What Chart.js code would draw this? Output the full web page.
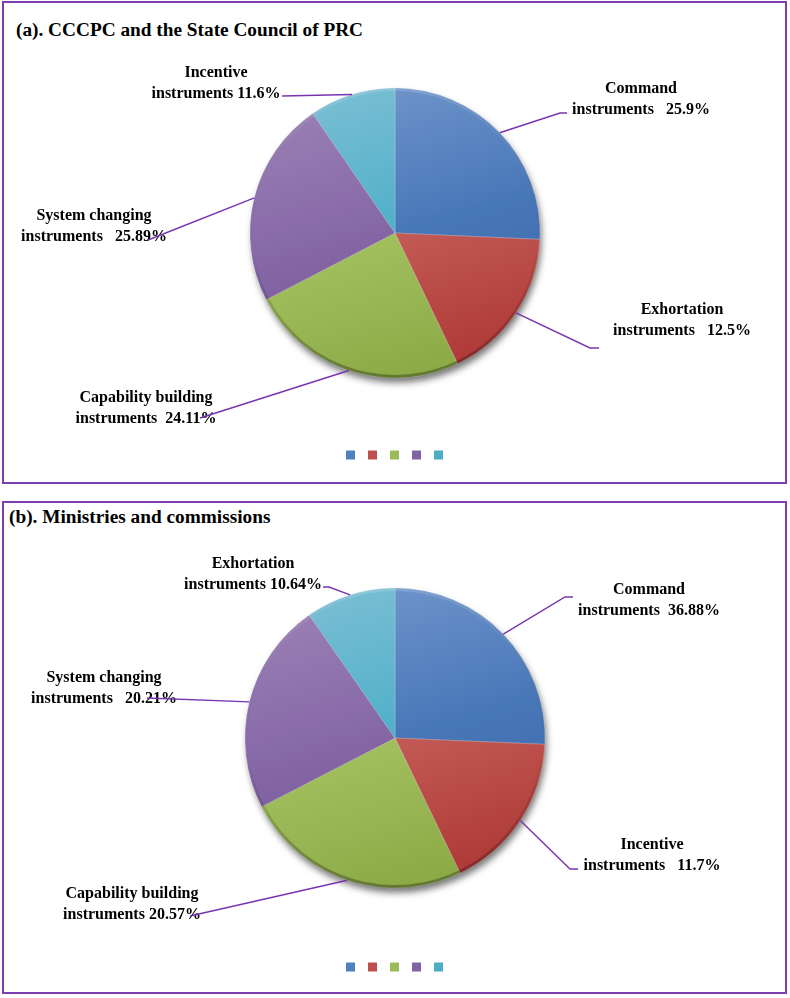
<!DOCTYPE html>
<html>
<head>
<meta charset="utf-8">
<script src="https://cdn.jsdelivr.net/npm/chart.js@4.4.1/dist/chart.umd.min.js"></script>
<style>
  body { margin: 0; background: #fff; }
  #page { position: relative; width: 790px; height: 998px; overflow: hidden; }
  .frame { position: absolute; border: 2px solid #7b3fb2; box-sizing: border-box; }
  .title { position: absolute; font: bold 19.3px "Liberation Serif", "Times New Roman", serif; line-height: 19px; color: #000; white-space: nowrap; }
  .plot { position: absolute; left: 0; width: 790px; }
</style>
</head>
<body>
<div id="page">
  <div class="frame" style="left:2px;top:1px;width:785px;height:483px"></div>
  <div class="frame" style="left:2px;top:501px;width:785px;height:493px"></div>
  <div class="title" style="left:16px;top:20px">(a). CCCPC and the State Council of PRC</div>
  <div class="title" style="left:9px;top:507px">(b). Ministries and commissions</div>
  <div class="plot" style="top:0;height:500px"><canvas id="chartA"></canvas></div>
  <div class="plot" style="top:500px;height:498px"><canvas id="chartB"></canvas></div>
</div>
<script>
// panel (a)
const categoriesA = ["Command", "Exhortation", "Capability building", "System changing", "Incentive"];
const sharesA = [25.7, 17.2, 24.5, 23.0, 9.6];        // slice sizes as drawn
const percentsA = ["25.9%", "12.5%", "24.11%", "25.89%", "11.6%"]; // printed labels

// panel (b)
const categoriesB = ["Command", "Incentive", "Capability building", "System changing", "Exhortation"];
const sharesB = [25.7, 17.2, 24.6, 22.9, 9.7];
const percentsB = ["36.88%", "11.7%", "20.57%", "20.21%", "10.64%"];

const baseColors = ["#4F81BD", "#C0504D", "#9BBB59", "#8064A2", "#4BACC6"];
const lightColors = ["#7095CB", "#D0736D", "#B2CB78", "#9A80B5", "#78BED3"];
const midColors = ["#4877B8", "#C35A55", "#A2BF5E", "#8466A6", "#4FAFC9"];
const darkColors = ["#3A66A8", "#AD3835", "#8AA944", "#6F4F8E", "#3A9DB8"];

// label placement, page coordinates: centre x, first baseline, spaces before %, leader path
const labelLayoutA = [
  { x: 641, y: 93, gap: 3, path: [[560, 113], [567, 113]] },
  { x: 682, y: 314, gap: 3, path: [[590, 348], [599, 348]] },
  { x: 146, y: 402, gap: 2, path: [[200, 418]] },
  { x: 94, y: 220, gap: 3, path: [[148, 240]] },
  { x: 216, y: 77, gap: 1, path: [[282, 96]] }
];
const labelLayoutB = [
  { x: 649, y: 594, gap: 2, path: [[565, 597], [573, 597]] },
  { x: 652, y: 849, gap: 3, path: [[570, 869], [578, 869]] },
  { x: 132, y: 898, gap: 1, path: [[190, 916]] },
  { x: 104, y: 682, gap: 3, path: [[147, 698]] },
  { x: 253, y: 568, gap: 1, path: [[329, 587], [323, 587]] }
];

function shadedFill(radius) {
  return function (context) {
    const i = context.dataIndex;
    const area = context.chart.chartArea;
    if (!area) return baseColors[i];
    const cx = (area.left + area.right) / 2;
    const cy = (area.top + area.bottom) / 2;
    const g = context.chart.ctx.createLinearGradient(cx - radius * 0.3, cy - radius, cx + radius * 0.3, cy + radius);
    g.addColorStop(0, lightColors[i]);
    g.addColorStop(0.5, midColors[i]);
    g.addColorStop(1, darkColors[i]);
    return g;
  };
}

const pieShadow = {
  id: "pieShadow",
  beforeDatasetsDraw(chart) {
    const arc = chart.getDatasetMeta(0).data[0];
    if (!arc) return;
    const ctx = chart.ctx;
    ctx.save();
    ctx.shadowColor = "rgba(0,0,0,0.55)";
    ctx.shadowBlur = 7;
    ctx.shadowOffsetX = 2;
    ctx.shadowOffsetY = 5;
    ctx.fillStyle = "#666";
    ctx.beginPath();
    ctx.arc(arc.x, arc.y, arc.outerRadius - 0.5, 0, Math.PI * 2);
    ctx.fill();
    ctx.restore();
  },
  afterDatasetsDraw(chart) {
    const arc = chart.getDatasetMeta(0).data[0];
    if (!arc) return;
    const ctx = chart.ctx;
    const r = arc.outerRadius;
    const g = ctx.createLinearGradient(0, arc.y - r, 0, arc.y + r);
    g.addColorStop(0, "rgba(255,255,255,0.15)");
    g.addColorStop(0.55, "rgba(0,0,0,0)");
    g.addColorStop(1, "rgba(0,0,0,0.3)");
    ctx.save();
    ctx.strokeStyle = g;
    ctx.lineWidth = 3;
    ctx.beginPath();
    ctx.arc(arc.x, arc.y, r - 1.5, 0, Math.PI * 2);
    ctx.stroke();
    ctx.restore();
  }
};

function leaderLabels(names, percents, layout, offsetY) {
  return {
    id: "leaderLabels",
    afterDraw(chart) {
      const ctx = chart.ctx;
      const arcs = chart.getDatasetMeta(0).data;
      ctx.save();
      ctx.font = 'bold 16px "Liberation Serif", "Times New Roman", serif';
      ctx.textAlign = "center";
      ctx.textBaseline = "alphabetic";
      ctx.fillStyle = "#000";
      layout.forEach((item, i) => {
        const second = "instruments" + " ".repeat(item.gap) + percents[i];
        ctx.fillText(names[i], item.x, item.y - offsetY);
        ctx.fillText(second, item.x, item.y - offsetY + 21);
      });
      ctx.strokeStyle = "#7834B0";
      ctx.lineWidth = 1.4;
      arcs.forEach((arc, i) => {
        const mid = (arc.startAngle + arc.endAngle) / 2;
        ctx.beginPath();
        ctx.moveTo(arc.x + Math.cos(mid) * arc.outerRadius, arc.y + Math.sin(mid) * arc.outerRadius);
        layout[i].path.forEach(p => ctx.lineTo(p[0], p[1] - offsetY));
        ctx.stroke();
      });
      ctx.restore();
    }
  };
}

function pieConfig(names, shares, percents, layout, offsetY, radius, padTop, padBottom) {
  return {
    type: "pie",
    data: {
      labels: names,
      datasets: [{
        data: shares,
        backgroundColor: shadedFill(radius),
        borderColor: "rgba(255,255,255,0.35)",
        borderWidth: 0.6,
        radius: radius,
        hoverOffset: 0
      }]
    },
    options: {
      responsive: true,
      maintainAspectRatio: false,
      animation: false,
      events: [],
      layout: { padding: { top: padTop, bottom: padBottom, left: 0, right: 0 } },
      plugins: {
        title: { display: false },
        tooltip: { enabled: false },
        legend: {
          position: "bottom",
          labels: {
            boxWidth: 9,
            boxHeight: 9,
            padding: 12,
            font: { size: 2 },
            generateLabels: () => baseColors.map((c, i) => ({
              text: "", fillStyle: c, strokeStyle: c, lineWidth: 0, hidden: false, index: i
            }))
          }
        }
      }
    },
    plugins: [pieShadow, leaderLabels(names, percents, layout, offsetY)]
  };
}

const chartA = new Chart(document.getElementById("chartA"),
  pieConfig(categoriesA, sharesA, percentsA, labelLayoutA, 0, 145, 27.5, 30.5));
const chartB = new Chart(document.getElementById("chartB"),
  pieConfig(categoriesB, sharesB, percentsB, labelLayoutB, 500, 150, 25.5, 16.5));
</script>
</body>
</html>
